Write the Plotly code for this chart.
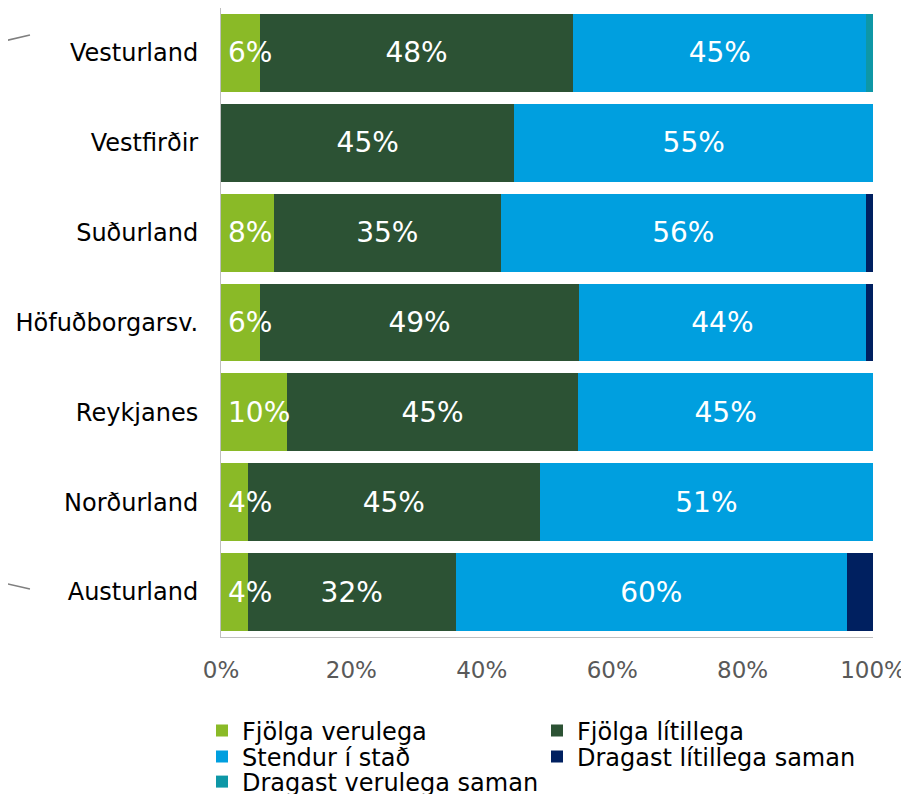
import plotly.graph_objects as go

regions = ["Vesturland", "Vestfirðir", "Suðurland", "Höfuðborgarsv.",
           "Reykjanes", "Norðurland", "Austurland"]

fjolga_verulega = [6.0, None, 8.1, 6.0, 10.1, 4.1, 4.1]
fjolga_litillega = [48.0, 45.0, 34.8, 48.9, 44.7, 44.8, 31.9]
stendur = [45.0, 55.0, 56.0, 44.0, 45.2, 51.1, 60.0]
dragast_litillega = [None, None, 1.1, 1.1, None, None, 4.0]
dragast_verulega = [1.0, None, None, None, None, None, None]

series_names = ["Fjölga verulega", "Fjölga lítillega", "Stendur í stað",
                "Dragast lítillega saman", "Dragast verulega saman"]
series_values = [fjolga_verulega, fjolga_litillega, stendur,
                 dragast_litillega, dragast_verulega]
series_colors = ["#8aba27", "#2c5234", "#009fdf", "#002060", "#0e97a6"]
show_labels = [False, True, True, False, False]  # first series labelled on top separately

# legend placement (one legend per entry, two columns), page pixels
legend_ids = ["legend", "legend2", "legend3", "legend4", "legend5"]
legend_x_px = [202, 537, 202, 537, 202]
legend_y_px = [731, 731, 757, 757, 782]

FONT = "DejaVu Sans, Verdana, sans-serif"
W, H = 909, 794
OFF = 8  # page body margin

def pct(v):
    return f"{round(v)}%" if v else ""

fig = go.Figure()
for name, vals, color, lab, lid in zip(series_names, series_values, series_colors,
                                       show_labels, legend_ids):
    text = [pct(v) if lab else "" for v in vals]
    fig.add_trace(go.Bar(
        y=regions, x=vals, name=name, orientation="h",
        marker=dict(color=color, line=dict(width=0)),
        text=text, textposition="inside", textangle=0,
        constraintext="none", insidetextanchor="middle",
        insidetextfont=dict(color="white", size=28, family=FONT),
        hoverinfo="x+y+name", legend=lid,
    ))

# labels of the first (narrow) series, drawn above the bars
annotations = [
    dict(x=0, y=r, xref="x", yref="y", text=pct(v), showarrow=False,
         xanchor="left", yanchor="middle", xshift=5,
         font=dict(color="white", size=28, family=FONT))
    for r, v in zip(regions, fjolga_verulega) if v
]

legends = {}
for lid, lx, ly in zip(legend_ids, legend_x_px, legend_y_px):
    legends[lid] = dict(
        xref="container", yref="container",
        x=(lx - OFF) / W, xanchor="left", y=1 - (ly - OFF) / H, yanchor="middle",
        orientation="h", bgcolor="rgba(0,0,0,0)",
        font=dict(size=24, family=FONT, color="black"),
        itemclick=False, itemdoubleclick=False,
    )

fig.update_layout(
    barmode="stack",
    bargap=0.135,
    width=W, height=H,
    margin=dict(l=221 - OFF, r=W - (873 - OFF), t=0, b=H - (637 - OFF), autoexpand=False),
    plot_bgcolor="white", paper_bgcolor="white",
    font=dict(family=FONT, size=22, color="black"),
    showlegend=True,
    annotations=annotations,
    xaxis=dict(range=[0, 100], dtick=20, ticksuffix="%", showgrid=False,
               zeroline=False, showline=True, linecolor="#bfbfbf", linewidth=1,
               tickfont=dict(size=23, color="#595959", family=FONT),
               ticklabelstandoff=12, fixedrange=True, automargin=False),
    yaxis=dict(categoryorder="array", categoryarray=regions, autorange="reversed",
               showgrid=False, zeroline=False, showline=True, linecolor="#bfbfbf",
               linewidth=1, tickfont=dict(size=24, color="black", family=FONT),
               ticklabelstandoff=17, fixedrange=True, automargin=False),
    shapes=[
        dict(type="line", xref="paper", yref="paper", x0=-0.339, y0=0.946,
             x1=-0.293, y1=0.957, line=dict(color="#7f7f7f", width=1.5)),
        dict(type="line", xref="paper", yref="paper", x0=-0.339, y0=0.0873,
             x1=-0.293, y1=0.0762, line=dict(color="#7f7f7f", width=1.5)),
    ],
    **legends,
)

fig.write_html("out.html")
